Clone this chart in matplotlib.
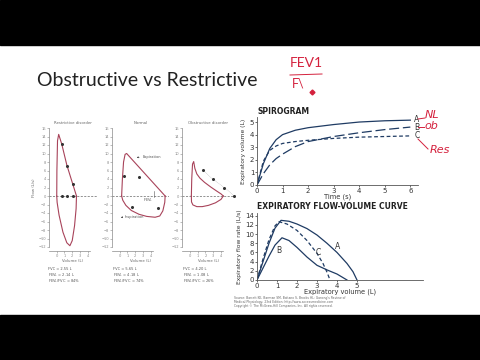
import matplotlib
matplotlib.use("Agg")
import matplotlib.pyplot as plt
from matplotlib.patches import Rectangle
from matplotlib.lines import Line2D

W, H = 480, 360

# ---- flow-volume loops (volume L, flow L/s) ----
restr_exp_vol = [0, 0.02, 0.1, 0.25, 0.65, 1.3, 2.0, 2.55]
restr_exp_flow = [0, 6, 13, 14.5, 12.2, 7.3, 3.2, 0]
restr_insp_vol = [2.55, 2.5, 2.3, 2.0, 1.7, 1.3, 0.8, 0.3, 0.05, 0]
restr_insp_flow = [0, -3, -7, -10.5, -11.7, -11, -8.5, -4.5, -1.5, 0]
restr_marks_vol = [0.65, 1.3, 2.05, 0.65, 1.35, 2.05]
restr_marks_flow = [12.2, 7.0, 2.8, 0, 0, 0]

norm_exp_vol = [0.25, 0.35, 0.5, 0.7, 0.9, 1.5, 2.5, 3.5, 4.5, 5.3, 5.9]
norm_exp_flow = [0, 4, 8, 9.8, 10, 8.8, 6.8, 4.8, 2.8, 1.2, 0]
norm_insp_vol = [5.9, 5.85, 5.6, 5.2, 4.6, 3.5, 2.5, 1.5, 0.8, 0.4, 0.25]
norm_insp_flow = [0, -1.5, -3.5, -4.7, -5, -4.8, -4.3, -3.4, -2.2, -1, 0]
norm_marks_vol = [0.55, 2.5, 1.6, 5.0]
norm_marks_flow = [4.7, 4.5, -2.6, -2.9]

obst_exp_vol = [0.2, 0.25, 0.35, 0.5, 0.65, 0.9, 1.3, 1.9, 2.7, 3.5, 4.0, 4.3]
obst_exp_flow = [0, 4, 7.5, 8.1, 6.5, 5.2, 4.2, 3.2, 2.1, 1.1, 0.5, 0]
obst_insp_vol = [4.3, 4.0, 3.3, 2.4, 1.6, 0.9, 0.4, 0.22, 0.2]
obst_insp_flow = [0, -0.8, -1.6, -2.2, -2.5, -2.5, -2.1, -1.4, 0]
obst_ref_vol = [1.7, 2.95, 4.4, 5.7]
obst_ref_flow = [6.1, 4.0, 2.0, 0]

panel_titles = ["Restrictive disorder", "Normal", "Obstructive disorder"]
panel_stats = [
    ["FVC = 2.55 L", "FEV$_1$ = 2.14 L", "FEV$_1$/FVC = 84%"],
    ["FVC = 5.65 L", "FEV$_1$ = 4.18 L", "FEV$_1$/FVC = 74%"],
    ["FVC = 4.20 L", "FEV$_1$ = 1.08 L", "FEV$_1$/FVC = 26%"],
]
loop_ticks_y = list(range(-12, 17, 2))
loop_ticks_x = [0, 1, 2, 3, 4]

# ---- spirogram (time s, volume L) ----
spiro_t = [0, 0.25, 0.5, 0.75, 1, 1.5, 2, 3, 4, 5, 6]
spiro_A = [0, 1.7, 2.9, 3.6, 4.0, 4.35, 4.55, 4.8, 5.0, 5.1, 5.15]
spiro_B = [0, 0.9, 1.6, 2.1, 2.45, 3.05, 3.45, 3.85, 4.15, 4.4, 4.6]
spiro_C = [0, 1.9, 2.75, 3.1, 3.3, 3.45, 3.55, 3.7, 3.8, 3.85, 3.9]

# ---- expiratory flow-volume curve ----
fv_A_vol = [0, 0.3, 0.6, 0.9, 1.2, 1.6, 2.0, 2.5, 3.0, 3.5, 4.0, 4.5, 4.8, 5.0]
fv_A_flow = [0, 4, 8, 11.3, 13, 12.8, 12.2, 11.2, 9.8, 8.0, 6.0, 3.6, 1.8, 0]
fv_B_vol = [0, 0.3, 0.6, 0.9, 1.25, 1.6, 2.0, 2.5, 3.0, 3.5, 4.0, 4.5]
fv_B_flow = [0, 2.6, 5.2, 7.6, 9.2, 8.6, 7.1, 5.0, 3.2, 2.2, 1.3, 0]
fv_C_vol = [0, 0.3, 0.6, 0.9, 1.1, 1.5, 2.0, 2.5, 3.0, 3.3, 3.5, 3.65]
fv_C_flow = [0, 4.6, 8.8, 11.8, 12.7, 12.2, 10.8, 8.6, 5.8, 3.6, 1.7, 0]

loop_col = "#a8435a"
gray = "#8a8a8a"
navy = "#1f3b63"
red = "#d4213d"

fig = plt.figure(figsize=(W / 100, H / 100), dpi=100)
fig.patch.set_facecolor("white")


def px_axes(left, top, right, bottom):
    return fig.add_axes([left / W, 1 - bottom / H, (right - left) / W, (bottom - top) / H])


def fig_text(x, y, s, **kw):
    fig.text(x / W, 1 - y / H, s, **kw)


def fig_line(xs, ys, **kw):
    fig.add_artist(Line2D([x / W for x in xs], [1 - y / H for y in ys],
                          transform=fig.transFigure, **kw))


# black letterbox bars
fig.add_artist(Rectangle((0, 1 - 45 / H), 1, 45 / H, transform=fig.transFigure,
                         color="black", zorder=0))
fig.add_artist(Rectangle((0, 0), 1, 45 / H, transform=fig.transFigure,
                         color="black", zorder=0))

fig_text(37, 81, "Obstructive vs Restrictive", fontsize=14, family="Lato",
         color="#222222", va="center")

# handwriting
fig_text(290, 63, "FEV1", fontsize=10, color=red, va="center", family="Lato")
fig_line([290, 322], [75, 74], color=red, lw=0.7)
fig_text(292, 84, "F\\", fontsize=9, color=red, va="center", family="Lato")
fig.add_artist(Line2D([312 / W], [1 - 92 / H], marker="D", ms=2.5, color=red,
                      transform=fig.transFigure))


def loop_panel(box, xmax, title, ylab):
    ax = px_axes(*box)
    ax.set_xlim(-1, xmax)
    ax.set_ylim(-12, 16)
    for s in ["top", "right"]:
        ax.spines[s].set_visible(False)
    ax.spines["left"].set_color(gray)
    ax.spines["bottom"].set_color(gray)
    ax.spines["left"].set_linewidth(0.5)
    ax.spines["bottom"].set_linewidth(0.5)
    ax.spines["bottom"].set_position(("outward", 3))
    ax.spines["bottom"].set_bounds(-1, 4.3)
    ax.set_yticks(loop_ticks_y)
    ax.set_xticks(loop_ticks_x)
    ax.tick_params(labelsize=2.6, colors=gray, length=1.2, width=0.4, pad=0.8)
    ax.axhline(0, ls=(0, (3, 2)), color="#666666", lw=0.5)
    ax.set_title(title, fontsize=2.8, color="#666666", pad=3)
    ax.set_xlabel("Volume (L)", fontsize=2.8, color="#666666", labelpad=0.8)
    if ylab:
        ax.set_ylabel("Flow (L/s)", fontsize=2.8, color="#666666", labelpad=2)
    ax.patch.set_alpha(0)
    return ax


ax1 = loop_panel((49, 128, 97, 247), 5.2, panel_titles[0], True)
ax1.plot(restr_exp_vol, restr_exp_flow, color=loop_col, lw=0.8)
ax1.plot(restr_insp_vol, restr_insp_flow, color=loop_col, lw=0.8)
ax1.plot(restr_marks_vol, restr_marks_flow, "o", color="#333333", ms=1.2)

ax2 = loop_panel((112, 128, 169, 247), 6.4, panel_titles[1], False)
ax2.plot(norm_exp_vol, norm_exp_flow, color=loop_col, lw=0.8)
ax2.plot(norm_insp_vol, norm_insp_flow, color=loop_col, lw=0.8)
ax2.plot(norm_marks_vol, norm_marks_flow, "o", color="#333333", ms=1.2)
ax2.annotate("", xy=(2.2, 9.1), xytext=(2.9, 9.1),
             arrowprops=dict(arrowstyle="-|>", lw=0.4, color="#444444",
                             mutation_scale=2))
ax2.text(3.0, 9.1, "Expiration", fontsize=2.6, color="#555555", va="center")
ax2.annotate("", xy=(-0.2, -5.0), xytext=(0.6, -5.0),
             arrowprops=dict(arrowstyle="-|>", lw=0.4, color="#444444",
                             mutation_scale=2))
ax2.text(0.7, -5.0, "Inspiration", fontsize=2.6, color="#555555", va="center")
ax2.plot([4.5, 4.5], [-0.3, 1.2], color="#555555", lw=0.4)
ax2.text(4.3, -1.0, "FEV$_1$", fontsize=2.6, color="#555555", va="center", ha="right")

ax3 = loop_panel((182, 128, 235, 247), 5.8, panel_titles[2], False)
ax3.plot(obst_exp_vol, obst_exp_flow, color=loop_col, lw=0.8)
ax3.plot(obst_insp_vol, obst_insp_flow, color=loop_col, lw=0.8)
ax3.plot(obst_ref_vol, obst_ref_flow, ":", color="#999999", lw=0.4)
ax3.plot(obst_ref_vol, obst_ref_flow, "o", color="#333333", ms=1.2)

for x0, lines in zip([48, 113, 183], panel_stats):
    for i, s in enumerate(lines):
        fig_text(x0, 269 + 6.3 * i, s, fontsize=2.6, color="#555555", va="center")


def right_axes(box, xlim, ylim, xticks, yticks):
    ax = px_axes(*box)
    ax.set_xlim(*xlim)
    ax.set_ylim(*ylim)
    for s in ["top", "right"]:
        ax.spines[s].set_visible(False)
    for s in ["left", "bottom"]:
        ax.spines[s].set_color("#555555")
        ax.spines[s].set_linewidth(0.6)
    ax.set_xticks(xticks)
    ax.set_yticks(yticks)
    ax.tick_params(labelsize=5, colors="#333333", length=1.5, width=0.5, pad=0.5)
    ax.patch.set_alpha(0)
    return ax


# spirogram
axs = right_axes((257, 117, 418, 185), (0, 6.3), (0, 5.4), range(0, 7), range(0, 6))
axs.plot(spiro_t, spiro_A, color=navy, lw=0.9)
axs.plot(spiro_t, spiro_B, color=navy, lw=0.9, ls=(0, (8, 3)))
axs.plot(spiro_t, spiro_C, color=navy, lw=0.9, ls=(0, (3, 2)))
for lab, v in zip(["A", "B", "C"], [5.24, 4.6, 3.9]):
    axs.text(6.15, v, lab, fontsize=5.5, color="#333333", va="center")
axs.set_xlabel("Time (s)", fontsize=4.8, color="#333333", labelpad=0)
axs.set_ylabel("Expiratory volume (L)", fontsize=4.3, color="#333333", labelpad=2.5)
fig_text(257, 112, "SPIROGRAM", fontsize=5.5, weight="bold", color="#222222", va="center")

# expiratory flow-volume curve
axf = right_axes((257, 213, 423, 280), (0, 8.3), (0, 14.6), range(0, 6), range(0, 15, 2))
axf.spines["bottom"].set_bounds(0, 8.3)
axf.plot(fv_A_vol, fv_A_flow, color=navy, lw=0.9)
axf.plot(fv_B_vol, fv_B_flow, color=navy, lw=0.9)
axf.plot(fv_C_vol, fv_C_flow, color=navy, lw=0.9, ls=(0, (3, 2)))
axf.text(3.9, 7.2, "A", fontsize=5.5, color="#333333", va="center")
axf.text(0.95, 6.5, "B", fontsize=5.5, color="#333333", va="center")
axf.text(2.95, 6.1, "C", fontsize=5.5, color="#333333", va="center")
axf.set_xlabel("Expiratory volume (L)", fontsize=4.8, color="#333333", labelpad=0)
axf.set_ylabel("Expiratory flow rate (L/s)", fontsize=4.3, color="#333333", labelpad=2.5)
fig_text(257, 207, "EXPIRATORY FLOW-VOLUME CURVE", fontsize=5.5, weight="bold",
         color="#222222", va="center")

# source note
src = ["Source: Barrett KE, Barman SM, Boitano S, Brooks HL: Ganong's Review of",
       "Medical Physiology, 23rd Edition: http://www.accessmedicine.com",
       "Copyright \u00a9 The McGraw-Hill Companies, Inc. All rights reserved."]
for i, s in enumerate(src):
    fig_text(234, 298 + 4 * i, s, fontsize=2.2, color="#666666", va="center")

# red annotations next to spirogram labels
fig_line([418, 425], [119, 118], color=red, lw=0.7)
fig_text(425, 115, "NL", fontsize=8, color=red, va="center", style="italic")
fig_line([418, 424], [127, 127], color=red, lw=0.7)
fig_text(424, 126, "ob", fontsize=8, color=red, va="center", style="italic")
fig_line([418, 428], [139, 149], color=red, lw=0.7)
fig_text(430, 150, "Res", fontsize=8, color=red, va="center", style="italic")

fig.savefig("out.png", dpi=100)
